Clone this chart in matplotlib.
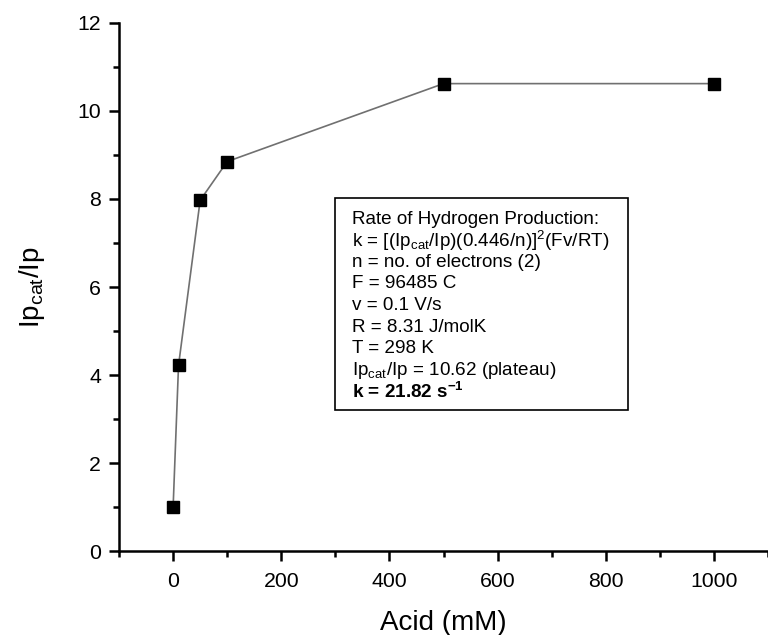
import matplotlib
matplotlib.use("Agg")
import matplotlib.pyplot as plt
from matplotlib.ticker import MultipleLocator

plt.rcParams['font.family'] = ['Liberation Sans', 'DejaVu Sans']
plt.rcParams['mathtext.fontset'] = 'custom'
plt.rcParams['mathtext.rm'] = 'Liberation Sans'
plt.rcParams['mathtext.it'] = 'Liberation Sans'
plt.rcParams['mathtext.bf'] = 'Liberation Sans:bold'

acid_mM = [0, 10, 50, 100, 500, 1000]
ratio = [1.0, 4.22, 7.97, 8.85, 10.62, 10.62]

fig = plt.figure(figsize=(7.68, 6.35), dpi=100)
ax = fig.add_axes([0.155, 0.132, 0.845, 0.832])

ax.plot(acid_mM, ratio, color='#707070', lw=1.2, marker='s', ms=8.5,
        mfc='black', mec='black', zorder=3, clip_on=False)

ax.set_xlim(-100, 1100)
ax.set_ylim(0, 12)
ax.xaxis.set_major_locator(MultipleLocator(200))
ax.xaxis.set_minor_locator(MultipleLocator(100))
ax.yaxis.set_major_locator(MultipleLocator(2))
ax.yaxis.set_minor_locator(MultipleLocator(1))

for s in ['top', 'right']:
    ax.spines[s].set_visible(False)
for s in ['left', 'bottom']:
    ax.spines[s].set_linewidth(1.8)

ax.tick_params(which='major', direction='out', length=7, width=1.8, labelsize=15.3)
ax.tick_params(axis='x', which='major', pad=8)
ax.tick_params(axis='y', which='major', pad=6)
ax.tick_params(which='minor', direction='out', length=4, width=1.8)

ax.set_xlabel('Acid (mM)', fontsize=20, labelpad=14)
ax.set_ylabel(r'Ip$_{\mathrm{cat}}$/Ip', fontsize=20, labelpad=22)

lines = [
    'Rate of Hydrogen Production:',
    r'k = [(Ip$_{\mathrm{cat}}$/Ip)(0.446/n)]$^{\mathrm{2}}$(Fv/RT)',
    'n = no. of electrons (2)',
    'F = 96485 C',
    'v = 0.1 V/s',
    'R = 8.31 J/molK',
    'T = 298 K',
    r'Ip$_{\mathrm{cat}}$/Ip = 10.62 (plateau)',
]
y0 = 1 - 219 / 635
dy = 21.6 / 635
for i, t in enumerate(lines):
    fig.text(0.458, y0 - i * dy, t, fontsize=13.6, va='center', ha='left', zorder=3)
fig.text(0.458, y0 - len(lines) * dy, r'k = 21.82 s$^{\mathbf{-1}}$',
         fontsize=13.6, va='center', ha='left', fontweight='bold', zorder=3)

box = plt.Rectangle((0.436, 0.355), 0.382, 0.333, transform=fig.transFigure,
                    fill=True, facecolor='white', edgecolor='black', lw=1.2, zorder=1)
fig.patches.append(box)

fig.savefig('out.png', dpi=100)
